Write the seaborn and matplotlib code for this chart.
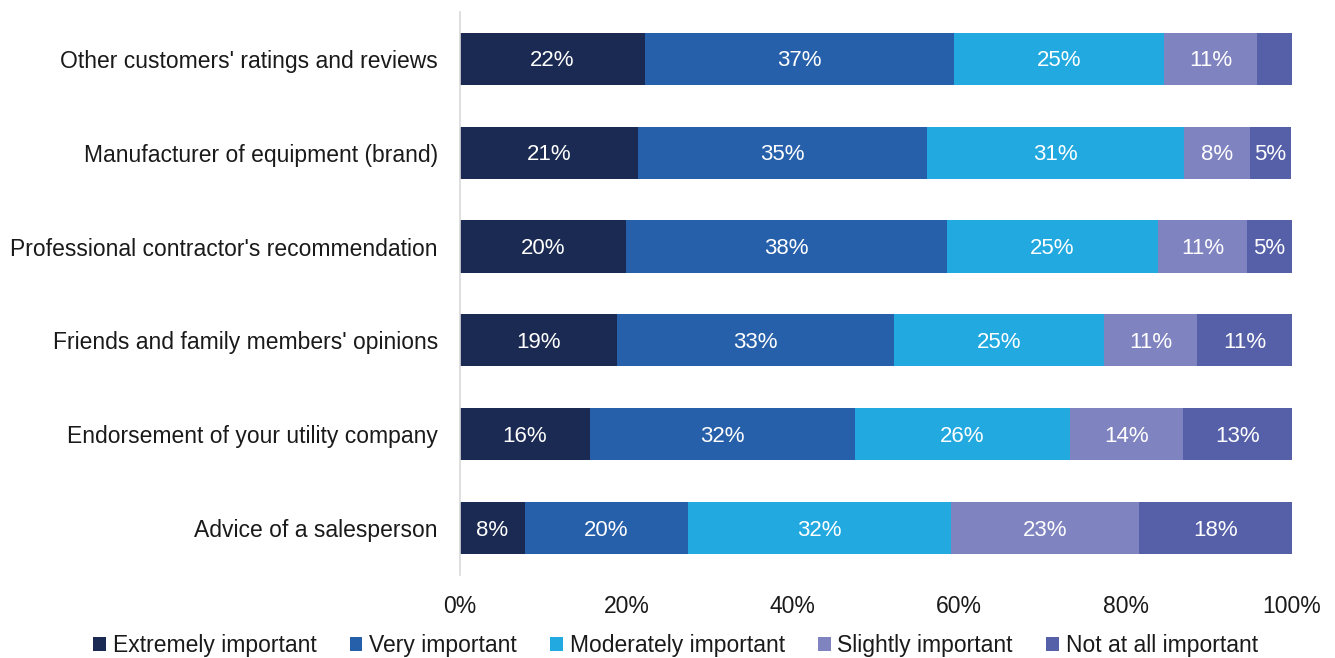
import matplotlib
matplotlib.use("Agg")
import matplotlib.pyplot as plt
import numpy as np
import pandas as pd
import seaborn as sns

# Survey data (share of respondents, %)
categories = [
    "Other customers' ratings and reviews",
    "Manufacturer of equipment (brand)",
    "Professional contractor's recommendation",
    "Friends and family members' opinions",
    "Endorsement of your utility company",
    "Advice of a salesperson",
]
levels = [
    "Extremely important",
    "Very important",
    "Moderately important",
    "Slightly important",
    "Not at all important",
]
extremely = [22.2, 21.4, 20.0, 18.9, 15.6, 7.8]
very = [37.2, 34.7, 38.5, 33.3, 31.9, 19.6]
moderately = [25.2, 30.9, 25.4, 25.2, 25.8, 31.6]
slightly = [11.2, 7.9, 10.7, 11.2, 13.6, 22.6]
not_at_all = [4.2, 5.0, 5.4, 11.4, 13.1, 18.4]
colors = ["#1B2A52", "#2760AA", "#21A9E0", "#7F83C0", "#5560A8"]

df = pd.DataFrame(
    dict(zip(levels, [extremely, very, moderately, slightly, not_at_all])),
    index=categories,
)

sns.set_theme(style="white")
plt.rcParams["font.family"] = ["Liberation Sans", "DejaVu Sans"]
plt.rcParams["text.color"] = "#1a1a1a"

fig = plt.figure(figsize=(13.35, 6.58), dpi=100)
ax = fig.add_axes([0.3446, 0.126, 0.6232, 0.856])

y = np.arange(len(categories))
left = np.zeros(len(categories))
for level, color in zip(levels, colors):
    vals = df[level].to_numpy()
    bars = ax.barh(y, vals, left=left, height=0.555, color=color,
                   label=level, edgecolor="none")
    for b, v in zip(bars, vals):
        if v >= 4.5:
            ax.text(b.get_x() + b.get_width() / 2, b.get_y() + b.get_height() / 2 + 0.02,
                    f"{round(v):.0f}%", ha="center", va="center",
                    color="white", fontsize=16)
    left += vals

ax.set_xlim(0, 100)
ax.set_ylim(5.5, -0.5)
ax.set_yticks(y)
ax.set_yticklabels(categories, fontsize=16.5, color="#1a1a1a")
ax.set_xticks(np.arange(0, 101, 20))
ax.set_xticklabels([f"{t}%" for t in range(0, 101, 20)], fontsize=16.5, color="#1a1a1a")
ax.tick_params(axis="x", length=0, pad=14)
ax.tick_params(axis="y", length=0, pad=16)
for s in ["top", "right", "bottom"]:
    ax.spines[s].set_visible(False)
ax.spines["left"].set_color("#D9D9D9")
ax.spines["left"].set_linewidth(1.2)

handles, labels = ax.get_legend_handles_labels()
fig.legend(handles, labels, loc="lower center", bbox_to_anchor=(0.506, -0.03),
           ncol=5, frameon=False, fontsize=16.5, handlelength=0.55, handleheight=0.55,
           handletextpad=0.3, columnspacing=1.45)

fig.savefig("out.png", dpi=100)
